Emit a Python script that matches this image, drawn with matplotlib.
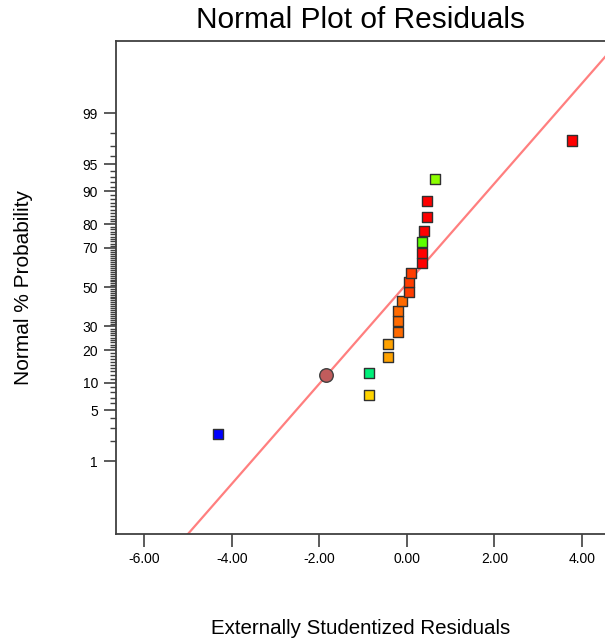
import matplotlib
matplotlib.use("Agg")
import matplotlib.pyplot as plt
import numpy as np
from statistics import NormalDist

plt.rcParams['font.family'] = ['Liberation Sans', 'DejaVu Sans']

# residuals (sorted by plotting position) and their normal % probability
residuals = [-4.33, -0.87, -0.87, -0.44, -0.44, -0.21, -0.21, -0.21, -0.12, 0.04,
             0.04, 0.10, 0.34, 0.34, 0.34, 0.40, 0.46, 0.46, 0.64, 3.77]
probability = [2.5, 7.5, 12.5, 17.5, 22.5, 27.5, 32.5, 37.5, 42.5, 47.5,
               52.5, 57.5, 62.5, 67.5, 72.5, 77.5, 82.5, 87.5, 92.5, 97.5]
colors = ['#0000ff', '#ffd400', '#00f07a', '#ffa200', '#ffa200', '#ff6a00', '#ff6a00',
          '#ff6a00', '#ff6a00', '#ff3c00', '#ff3c00', '#ff3c00', '#ff0000', '#ff0000',
          '#5cff00', '#ff0000', '#ff0000', '#ff0000', '#8cff00', '#ff0000']

# highlighted point
circle_x, circle_p = [-1.85], [12.0]

# fitted normal line
line_mu, line_sigma = -0.073, 1.495

major_ticks = [1, 5, 10, 20, 30, 50, 70, 80, 90, 95, 99]
x_ticks = [-6, -4, -2, 0, 2, 4]

nd = NormalDist()


def fwd(p):
    p = np.clip(np.asarray(p, dtype=float) / 100.0, 1e-12, 1 - 1e-12)
    return np.vectorize(nd.inv_cdf)(p)


def inv(z):
    return np.vectorize(nd.cdf)(np.asarray(z, dtype=float)) * 100.0


fig = plt.figure(figsize=(6.05, 6.41), dpi=100)
ax = fig.add_axes([116 / 605, 107 / 641, 1 - 116 / 605, 493 / 641])
ax.set_yscale('function', functions=(fwd, inv))

xmin, xmax = -6.651, 4.526
ax.set_xlim(xmin, xmax)
ax.set_ylim(inv(-3.30), inv(3.29))

lx = np.linspace(xmin, xmax, 50)
ax.plot(lx, inv((lx - line_mu) / line_sigma), color='#ff7f7f', lw=1.6, zorder=2)

ax.scatter(residuals, probability, marker='s', s=52, c=colors,
           edgecolors='#303030', linewidths=1.0, zorder=3)
ax.scatter(circle_x, circle_p, marker='o', s=95, c='#c05c5c',
           edgecolors='#404040', linewidths=1.0, zorder=3)

ax.set_yticks(major_ticks)
ax.set_yticklabels([str(t) for t in major_ticks])
ax.set_yticks([m for m in range(1, 100) if m not in major_ticks], minor=True)
ax.set_xticks(x_ticks)
ax.set_xticklabels(['%.2f' % t for t in x_ticks])
ax.xaxis.set_minor_locator(matplotlib.ticker.NullLocator())

ax.tick_params(axis='both', which='major', length=9, width=1.2, color='#404040',
               labelsize=10, pad=4)
ax.tick_params(axis='y', which='minor', length=4, width=1.0, color='#404040')

ax.spines['right'].set_visible(False)
for s in ['left', 'top', 'bottom']:
    ax.spines[s].set_color('#404040')
    ax.spines[s].set_linewidth(1.3)

fig.text(361 / 605, 1 - 20 / 641, 'Normal Plot of Residuals', fontsize=21.5,
         ha='center', va='center')
fig.text(361 / 605, 1 - 628 / 641, 'Externally Studentized Residuals', fontsize=14.8,
         ha='center', va='center')
fig.text(24 / 605, 1 - 287 / 641, 'Normal % Probability', fontsize=15,
         ha='center', va='center', rotation=90)

fig.savefig('out.png', dpi=100)
